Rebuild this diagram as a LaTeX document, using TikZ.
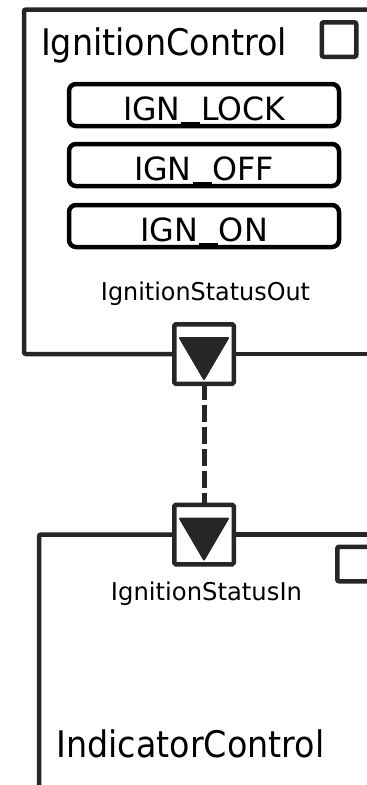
\documentclass[tikz,border=0pt]{standalone}
\usepackage{fontspec}
\setmainfont{DejaVu Sans}
\usepackage{graphicx}
\definecolor{frameink}{RGB}{38,38,38}
% scale text horizontally to a given width, keeping its height
\newcommand{\fitto}[2]{\resizebox{#1}{\height}{#2}}
% low underscore sitting just under the baseline
\newcommand{\usc}{\kern1pt\rule[-5pt]{19pt}{2.6pt}\kern1pt}
\tikzset{
  frame/.style={draw=frameink, line width=4.5pt, rounded corners=2pt},
  blockname/.style={font=\fontsize{36.6}{40}\selectfont, anchor=base, inner sep=0pt},
  portname/.style={font=\fontsize{24.5}{28}\selectfont, anchor=base, inner sep=0pt},
  statebox/.style={draw=black, line width=4.5pt, rounded corners=7pt,
    minimum width=270pt, minimum height=42pt, inner sep=0pt,
    text height=30pt, text depth=0pt, font=\fontsize{32}{36}\selectfont},
  portbox/.style={draw=frameink, fill=white, line width=4.5pt, rounded corners=1.5pt,
    minimum size=59.5pt, inner sep=0pt},
  iconbox/.style={draw=frameink, line width=4.5pt, rounded corners=2pt,
    minimum size=34.5pt, inner sep=0pt},
  flowmark/.style={fill=frameink, draw=frameink, line width=2pt, line join=round},
  link/.style={draw=frameink, line width=5pt, dash pattern=on 17pt off 5pt, dash phase=3pt}
}
\begin{document}
\begin{tikzpicture}[x=1pt, y=-1pt]
  \useasboundingbox (0,0) rectangle (367,785);
  \clip (0,0) rectangle (367,785);

  % ports and corner icons
  \node[portbox] (pout) at (204,354) {};
  \node[portbox] (pin) at (204,534.5) {};
  \node[iconbox] (icontop) at (339,39.5) {};
  \node[iconbox] (iconbot) at (354.5,564) {};

  % IgnitionControl block outline
  \draw[frame] (pout.west) -- (24,354) -- (24,9.5) -- (380,9.5);
  \draw[frame] (pout.east) -- (380,354);

  % IndicatorControl block outline
  \draw[frame] (pin.west) -- (39,534.5) -- (39,800);
  \draw[frame] (pin.east) -- (380,534.5);

  % flow direction marks inside the ports
  \draw[flowmark] ([shift={(-24,-16)}]pout.center) -- ([shift={(24,-16)}]pout.center)
    -- ([shift={(0,25)}]pout.center) -- cycle;
  \draw[flowmark] ([shift={(-24,-16)}]pin.center) -- ([shift={(24,-16)}]pin.center)
    -- ([shift={(0,25)}]pin.center) -- cycle;

  % connection between the ports
  \draw[link] (pout.south) -- (pin.north);

  % block titles
  \node[blockname] (ictitle) at (164,55) {\fitto{246pt}{IgnitionControl}};
  \node[blockname] (indtitle) at (190.5,757) {\fitto{268pt}{IndicatorControl}};

  % states
  \node[statebox] (lock) at (204,105) {\fitto{162pt}{IGN\usc LOCK}};
  \node[statebox] (off) at (204,165) {\fitto{140pt}{IGN\usc OFF}};
  \node[statebox] (on) at (204,226) {\fitto{128pt}{IGN\usc ON}};

  % port names
  \node[portname] (poutname) at (205.5,300) {\fitto{209pt}{IgnitionStatusOut}};
  \node[portname] (pinname) at (206.5,600) {\fitto{191pt}{IgnitionStatusIn}};
\end{tikzpicture}
\end{document}
